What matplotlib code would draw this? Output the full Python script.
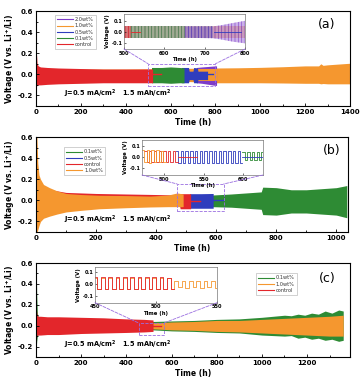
import numpy as np
import matplotlib.pyplot as plt
from matplotlib.patches import Rectangle, ConnectionPatch
from matplotlib.ticker import MultipleLocator

RED = '#e3262b'
ORANGE = '#f5972f'
GREEN = '#2e8b34'
BLUE = '#2f3dbd'
PURPLE = '#7d3cc8'
DASH = '#9a6ee0'
plt.rcParams['hatch.linewidth'] = 0.5

# ---------------- panel (a): envelopes of the cycling curves -----------------
a_orange_t = [0, 200, 400, 600, 800, 900, 1000, 1100, 1200, 1260, 1270, 1280, 1300, 1400]
a_orange_hi = [0.05, 0.05, 0.05, 0.055, 0.06, 0.062, 0.066, 0.072, 0.08, 0.08, 0.1, 0.085, 0.09, 0.105]
a_orange_lo = [-0.06, -0.06, -0.06, -0.06, -0.08, -0.08, -0.08, -0.082, -0.085, -0.085, -0.09, -0.087, -0.09, -0.09]
a_purple_t = [715, 740, 770, 800, 805]
a_purple_hi = [0.065, 0.07, 0.075, 0.08, 0.08]
a_purple_lo = [-0.08, -0.085, -0.095, -0.105, -0.105]
a_blue_t = [648, 680, 683, 700, 703, 720, 722, 760, 765]
a_blue_hi = [0.065, 0.065, 0.03, 0.03, 0.065, 0.06, 0.03, 0.03, 0.03]
a_blue_lo = [-0.08, -0.08, -0.05, -0.05, -0.08, -0.08, -0.05, -0.05, -0.05]
a_green_t = [515, 560, 600, 640, 660]
a_green_hi = [0.065, 0.065, 0.07, 0.065, 0.06]
a_green_lo = [-0.08, -0.08, -0.085, -0.08, -0.08]
a_red_t = [0, 2, 5, 10, 20, 50, 100, 200, 300, 400, 500, 520]
a_red_hi = [0.28, 0.2, 0.1, 0.08, 0.07, 0.065, 0.06, 0.055, 0.05, 0.05, 0.05, 0.05]
a_red_lo = [-0.1, -0.11, -0.105, -0.1, -0.1, -0.095, -0.09, -0.085, -0.08, -0.08, -0.08, -0.08]
a_red_flat = ([520, 558], [0.0, 0.0])
a_blue_flat = ([722, 790], [0.0, 0.0])

# inset (a), 500-800 h
ai_orange_t = [500, 720, 800]
ai_orange_hi = [0.05, 0.05, 0.05]
ai_orange_lo = [-0.05, -0.05, -0.05]
ai_purple_t = [650, 720, 740, 770, 800]
ai_purple_hi = [0.05, 0.05, 0.06, 0.08, 0.1]
ai_purple_lo = [-0.05, -0.055, -0.065, -0.085, -0.1]
ai_blue_t = [500, 720]
ai_blue_hi = [0.05, 0.05]
ai_blue_lo = [-0.05, -0.05]
ai_green_t = [515, 650]
ai_green_hi = [0.05, 0.05]
ai_green_lo = [-0.05, -0.05]
ai_red_t = [500, 518]
ai_red_hi = [0.055, 0.055]
ai_red_lo = [-0.05, -0.05]

# ---------------- panel (b) -----------------
b_green_t = [585, 650, 700, 750, 755, 800, 850, 900, 950, 1000, 1035]
b_green_hi = [0.05, 0.06, 0.07, 0.08, 0.125, 0.12, 0.1, 0.1, 0.11, 0.12, 0.14]
b_green_lo = [-0.06, -0.065, -0.075, -0.085, -0.135, -0.14, -0.12, -0.12, -0.13, -0.14, -0.165]
b_blue_t = [512, 550, 590]
b_blue_hi = [0.063, 0.063, 0.065]
b_blue_lo = [-0.075, -0.075, -0.075]
b_red_t = [0, 50, 100, 200, 300, 400, 478, 480, 515]
b_red_hi = [0.1, 0.1, 0.075, 0.065, 0.06, 0.055, 0.05, 0.063, 0.063]
b_red_lo = [-0.06, -0.06, -0.06, -0.05, -0.05, -0.05, -0.05, -0.08, -0.08]
b_orange_t = [0, 3, 6, 10, 15, 25, 45, 70, 100, 150, 210, 300, 380, 440, 470, 490]
b_orange_hi = [0.6, 0.6, 0.35, 0.24, 0.2, 0.15, 0.12, 0.09, 0.065, 0.055, 0.048, 0.045, 0.04, 0.05, 0.07, 0.06]
b_orange_lo = [-0.3, -0.3, -0.28, -0.24, -0.2, -0.17, -0.15, -0.13, -0.11, -0.095, -0.08, -0.07, -0.063, -0.06, -0.06, -0.06]
b_red_flat = ([515, 545], [-0.005, -0.005])
b_blue_flat = ([590, 622], [0.0, 0.0])

# inset (b): per-cycle plateau voltages (3 h charge / 3 h discharge)
bi_orange_start = 472
bi_orange_hi = [0.06, 0.065, 0.06, 0.06, 0.055]
bi_orange_lo = [-0.045, -0.05, -0.045, -0.045, -0.045]
bi_red_start = 475
bi_red_hi = [0.055, 0.055, 0.05, 0.05, 0.05, 0.05, 0.05]
bi_red_lo = [-0.045, -0.045, -0.045, -0.045, -0.045, -0.045, -0.045]
bi_blue_start = 515
bi_blue_hi = [0.05, 0.05, 0.052, 0.05, 0.05, 0.052, 0.05, 0.05, 0.052, 0.05, 0.05, 0.052, 0.05, 0.05]
bi_blue_lo = [-0.05, -0.05, -0.05, -0.05, -0.05, -0.05, -0.05, -0.05, -0.05, -0.05, -0.05, -0.05, -0.05, -0.05]
bi_green_start = 599
bi_green_hi = [0.04, 0.04, 0.04, 0.045, 0.045]
bi_green_lo = [-0.03, -0.03, -0.03, -0.03, -0.03]
bi_red_flat = ([517, 542], [0.0, 0.0])
bi_blue_flat = ([599, 626], [0.0, 0.0])

# ---------------- panel (c) -----------------
c_green_t = [0, 1, 3, 6, 10, 20, 100, 300, 515, 600, 700, 800, 900, 1000, 1100, 1130, 1160, 1190,
             1220, 1250, 1280, 1310, 1340, 1360]
c_green_hi = [0.6, 0.6, 0.3, 0.12, 0.08, 0.07, 0.07, 0.06, 0.04, 0.045, 0.05, 0.06, 0.065, 0.08, 0.1,
              0.095, 0.11, 0.1, 0.12, 0.11, 0.14, 0.12, 0.15, 0.14]
c_green_lo = [-0.22, -0.22, -0.15, -0.1, -0.08, -0.07, -0.07, -0.06, -0.04, -0.05, -0.055, -0.065, -0.07,
              -0.09, -0.1, -0.095, -0.12, -0.11, -0.13, -0.12, -0.14, -0.13, -0.15, -0.14]
c_orange_t = [0, 515, 560, 600, 700, 800, 900, 1000, 1100, 1200, 1300, 1360]
c_orange_hi = [0.04, 0.03, 0.03, 0.035, 0.04, 0.05, 0.05, 0.06, 0.07, 0.08, 0.09, 0.1]
c_orange_lo = [-0.04, -0.03, -0.035, -0.04, -0.045, -0.055, -0.06, -0.07, -0.08, -0.09, -0.1, -0.1]
c_red_t = [0, 2, 5, 10, 20, 50, 100, 200, 300, 400, 480, 518]
c_red_hi = [0.2, 0.15, 0.1, 0.09, 0.09, 0.085, 0.085, 0.08, 0.075, 0.065, 0.06, 0.055]
c_red_lo = [-0.1, -0.1, -0.09, -0.09, -0.09, -0.085, -0.085, -0.075, -0.07, -0.065, -0.06, -0.055]
c_red_flat = ([518, 555], [0.0, 0.0])

# inset (c): per-cycle plateau voltages
ci_orange_start = 449
ci_orange_hi = [0.05] * 11 + [0.025, 0.02, 0.025, 0.02, 0.025, 0.02]
ci_orange_lo = [-0.045] * 11 + [-0.03, -0.035, -0.03, -0.035, -0.03, -0.035]
ci_red_start = 449
ci_red_hi = [0.055, 0.055, 0.055, 0.055, 0.055, 0.055, 0.055, 0.055, 0.055, 0.055, 0.05]
ci_red_lo = [-0.04, -0.04, -0.04, -0.04, -0.04, -0.04, -0.04, -0.04, -0.04, -0.04, -0.04]

BOLD = dict(fontweight='bold')


def band(ax, t, hi, lo, color, alpha=1.0):
    ax.fill_between(t, lo, hi, color=color, lw=0, alpha=alpha)


def dotted_band(ax, t, hi, lo, color, alpha):
    # dense cycling seen from afar: pale fill with fine vertical strokes
    ax.fill_between(t, lo, hi, facecolor=color, alpha=alpha * 0.5, lw=0)
    ax.fill_between(t, lo, hi, facecolor='none', edgecolor=color, alpha=alpha, hatch='|||||', lw=0)


def square(ax, t0, hi, lo, color, lw=0.6):
    # one cycle = 3 h at the upper plateau then 3 h at the lower one
    vals = []
    for h, l in zip(hi, lo):
        vals += [h, l]
    vals.append(vals[-1])
    t = t0 + 3 * np.arange(len(vals))
    ax.step(t, vals, where='post', color=color, lw=lw)


def style_main(ax, xmax, major=200):
    ax.set_xlim(0, xmax)
    ax.set_ylim(-0.3, 0.6)
    ax.xaxis.set_major_locator(MultipleLocator(major))
    ax.xaxis.set_minor_locator(MultipleLocator(major / 2))
    ax.yaxis.set_major_locator(MultipleLocator(0.2))
    ax.yaxis.set_minor_locator(MultipleLocator(0.1))
    ax.tick_params(which='both', direction='in', labelsize=5, pad=2, width=0.6)
    ax.tick_params(which='major', length=2.5)
    ax.tick_params(which='minor', length=1.5)
    ax.set_yticks([-0.2, 0.0, 0.2, 0.4, 0.6])
    ax.set_yticklabels(['-0.2', '0.0', '0.2', '0.4', '0.6'])
    for lab in ax.get_xticklabels() + ax.get_yticklabels():
        lab.set_fontweight('bold')
    for s in ax.spines.values():
        s.set_linewidth(0.8)
    ax.set_xlabel('Time (h)', fontsize=5.5, labelpad=2, **BOLD)
    ax.set_ylabel('Voltage (V vs. Li$^\\mathbf{+}$/Li)', fontsize=5.5, labelpad=1, **BOLD)
    ax.text(0.09, 0.1, 'J=0.5 mA/cm$^\\mathbf{2}$   1.5 mAh/cm$^\\mathbf{2}$', transform=ax.transAxes,
            fontsize=4.8, **BOLD)


def style_inset(ax, xlim, ylim, xticks):
    ax.set_xlim(*xlim)
    ax.set_ylim(*ylim)
    ax.set_xticks(xticks)
    ax.set_yticks([-0.1, 0.0, 0.1])
    ax.set_yticklabels(['-0.1', '0.0', '0.1'])
    ax.tick_params(which='both', direction='in', labelsize=3.6, pad=1.2, length=1.5, width=0.4)
    for lab in ax.get_xticklabels() + ax.get_yticklabels():
        lab.set_fontweight('bold')
    for s in ax.spines.values():
        s.set_linewidth(0.5)
        s.set_color('#777777')
    ax.set_xlabel('Time (h)', fontsize=3.8, labelpad=1, **BOLD)
    ax.set_ylabel('Voltage (V)', fontsize=3.8, labelpad=1, **BOLD)


def zoom_box(fig, ax, ins, x0, x1, y0, y1):
    ax.add_patch(Rectangle((x0, y0), x1 - x0, y1 - y0, fill=False, ls='--', ec=DASH, lw=0.6, zorder=5))
    for xa, xb in [(0, x0), (1, x1)]:
        con = ConnectionPatch(xyA=(xa, 0), coordsA=ins.transAxes, xyB=(xb, y1), coordsB=ax.transData,
                              ls='--', color=DASH, lw=0.6)
        fig.add_artist(con)


def legend(ax, entries, loc):
    handles = [plt.Line2D([], [], color=c, lw=0.8) for c, _ in entries]
    leg = ax.legend(handles, [n for _, n in entries], loc=loc, fontsize=3.6, frameon=True,
                    handlelength=3.2, handletextpad=0.4, borderpad=0.4, labelspacing=0.25,
                    fancybox=False, edgecolor='#999999')
    leg.get_frame().set_linewidth(0.4)
    for t in leg.get_texts():
        t.set_color('#333333')


W, H = 363, 387
fig = plt.figure(figsize=(W / 100, H / 100), dpi=100)

# ===================== (a) =====================
ax = fig.add_axes([36 / W, 1 - 106 / H, 314 / W, 95 / H])
band(ax, a_orange_t, a_orange_hi, a_orange_lo, ORANGE)
band(ax, a_purple_t, a_purple_hi, a_purple_lo, PURPLE)
band(ax, [715, 805], [0.055, 0.055], [-0.06, -0.06], ORANGE)
band(ax, a_blue_t, a_blue_hi, a_blue_lo, BLUE)
band(ax, a_green_t, a_green_hi, a_green_lo, GREEN)
band(ax, a_red_t, a_red_hi, a_red_lo, RED)
ax.plot(*a_red_flat, color=RED, lw=1.0)
ax.plot(*a_blue_flat, color=BLUE, lw=1.0)
style_main(ax, 1400)
ax.text(0.955, 0.86, '(a)', transform=ax.transAxes, fontsize=9, ha='right', va='center')
legend(ax, [(PURPLE, '2.0wt%'), (ORANGE, '1.0wt%'), (BLUE, '0.5wt%'), (GREEN, '0.1wt%'), (RED, 'control')],
       (0.06, 0.6))

ins = fig.add_axes([124 / W, 1 - 49 / H, 121 / W, 35 / H])
dotted_band(ins, ai_orange_t, ai_orange_hi, ai_orange_lo, ORANGE, 0.7)
dotted_band(ins, ai_purple_t, ai_purple_hi, ai_purple_lo, PURPLE, 0.8)
dotted_band(ins, ai_blue_t, ai_blue_hi, ai_blue_lo, BLUE, 0.45)
dotted_band(ins, ai_green_t, ai_green_hi, ai_green_lo, GREEN, 0.55)
dotted_band(ins, ai_red_t, ai_red_hi, ai_red_lo, RED, 0.9)
ins.plot([518, 540], [0.0, 0.0], color=RED, lw=0.6)
ins.plot([722, 790], [0.0, 0.0], color=BLUE, lw=0.6)
style_inset(ins, (500, 800), (-0.15, 0.16), [500, 600, 700, 800])
zoom_box(fig, ax, ins, 500, 800, -0.11, 0.1)

# ===================== (b) =====================
ax = fig.add_axes([36 / W, 1 - 232 / H, 312 / W, 95 / H])
band(ax, b_green_t, b_green_hi, b_green_lo, GREEN)
band(ax, b_blue_t, b_blue_hi, b_blue_lo, BLUE)
band(ax, b_red_t, b_red_hi, b_red_lo, RED)
band(ax, b_orange_t, b_orange_hi, b_orange_lo, ORANGE)
ax.plot(*b_red_flat, color=RED, lw=1.0)
ax.plot(*b_blue_flat, color=BLUE, lw=1.0)
style_main(ax, 1039)
ax.text(0.975, 0.86, '(b)', transform=ax.transAxes, fontsize=9, ha='right', va='center')
legend(ax, [(GREEN, '0.1wt%'), (BLUE, '0.5wt%'), (RED, 'control'), (ORANGE, '1.0wt%')], (0.09, 0.6))

ins = fig.add_axes([142 / W, 1 - 175 / H, 121 / W, 35 / H])
square(ins, bi_green_start, bi_green_hi, bi_green_lo, GREEN)
square(ins, bi_blue_start, bi_blue_hi, bi_blue_lo, BLUE)
square(ins, bi_red_start, bi_red_hi, bi_red_lo, RED)
square(ins, bi_orange_start, bi_orange_hi, bi_orange_lo, ORANGE)
ins.plot(*bi_red_flat, color=RED, lw=0.6)
ins.plot(*bi_blue_flat, color=BLUE, lw=0.6)
style_inset(ins, (472, 625), (-0.16, 0.15), [500, 550, 600])
zoom_box(fig, ax, ins, 470, 625, -0.105, 0.155)

# ===================== (c) =====================
ax = fig.add_axes([36 / W, 1 - 357 / H, 314 / W, 94 / H])
band(ax, c_green_t, c_green_hi, c_green_lo, GREEN)
band(ax, c_orange_t, c_orange_hi, c_orange_lo, ORANGE)
band(ax, c_red_t, c_red_hi, c_red_lo, RED)
ax.plot(*c_red_flat, color=RED, lw=1.0)
style_main(ax, 1390)
ax.text(0.955, 0.84, '(c)', transform=ax.transAxes, fontsize=9, ha='right', va='center')
legend(ax, [(GREEN, '0.1wt%'), (ORANGE, '1.0wt%'), (RED, 'control')], (0.7, 0.66))

ins = fig.add_axes([95 / W, 1 - 302.7 / H, 122 / W, 36 / H])
square(ins, ci_orange_start, ci_orange_hi, ci_orange_lo, ORANGE)
square(ins, ci_red_start, ci_red_hi, ci_red_lo, RED)
style_inset(ins, (450, 550), (-0.155, 0.14), [450, 500, 550])
zoom_box(fig, ax, ins, 455, 565, -0.09, 0.025)

fig.savefig('out.png', dpi=100)
